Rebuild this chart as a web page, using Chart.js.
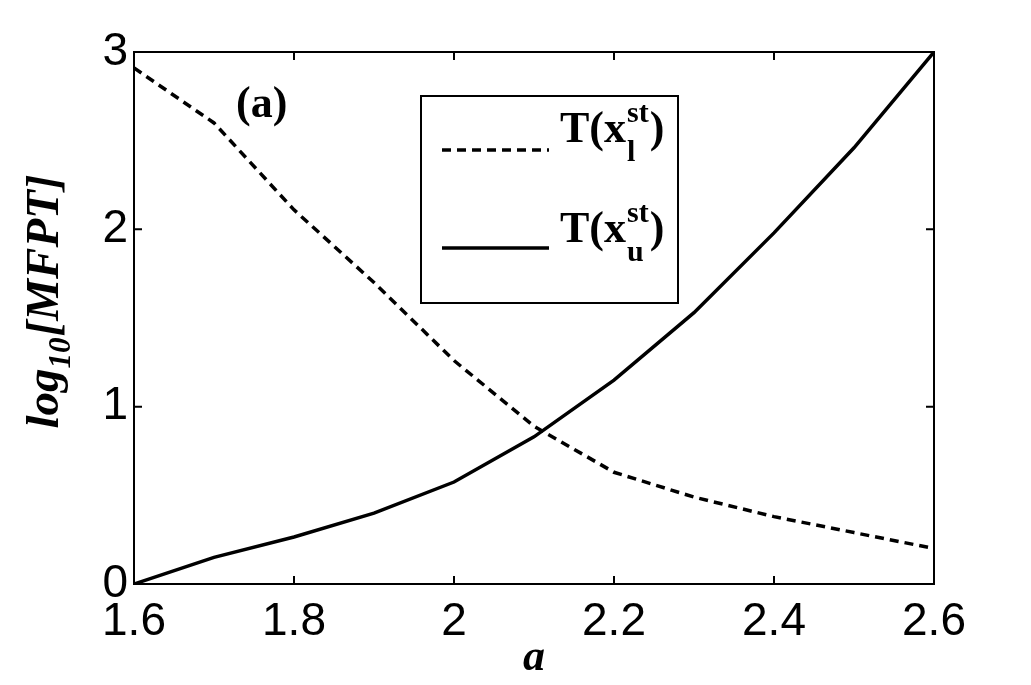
<!DOCTYPE html>
<html>
<head>
<meta charset="utf-8">
<script src="https://cdn.jsdelivr.net/npm/chart.js@4"></script>
<style>
  html, body { margin: 0; padding: 0; background: #fff; }
  #wrap { width: 1031px; height: 685px; }
</style>
</head>
<body>
<div id="wrap"><canvas id="mfptChart" width="1031" height="685"></canvas></div>
<script>
        // values
        const aValues = [1.6, 1.7, 1.8, 1.9, 2.0, 2.1, 2.2, 2.3, 2.4, 2.5, 2.6];
        const lowerT = [2.91, 2.60, 2.11, 1.70, 1.26, 0.89, 0.63, 0.49, 0.38, 0.29, 0.20];
        const upperT = [0.00, 0.15, 0.265, 0.40, 0.575, 0.83, 1.15, 1.53, 1.98, 2.46, 3.00];
        const xTicks = [1.6, 1.8, 2.0, 2.2, 2.4, 2.6];
        const yTicks = [0, 1, 2, 3];

        const serif = '"Liberation Serif", "Times New Roman", serif';
        const sans = '"Liberation Sans", Arial, sans-serif';

        function toPoints(ys) {
            return aValues.map((a, i) => ({ x: a, y: ys[i] }));
        }

        // box, inward ticks, label (a), legend and y title
        const framePlugin = {
            id: 'frame',
            afterDraw(chart) {
                const ctx = chart.ctx;
                const area = chart.chartArea;
                const xs = chart.scales.x;
                const ys = chart.scales.y;
                ctx.save();
                ctx.strokeStyle = '#000';
                ctx.lineWidth = 2;
                ctx.strokeRect(area.left, area.top, area.right - area.left, area.bottom - area.top);

                ctx.beginPath();
                xTicks.forEach(v => {
                    const px = xs.getPixelForValue(v);
                    ctx.moveTo(px, area.bottom); ctx.lineTo(px, area.bottom - 8);
                    ctx.moveTo(px, area.top); ctx.lineTo(px, area.top + 8);
                });
                yTicks.forEach(v => {
                    const py = ys.getPixelForValue(v);
                    ctx.moveTo(area.left, py); ctx.lineTo(area.left + 8, py);
                    ctx.moveTo(area.right, py); ctx.lineTo(area.right - 8, py);
                });
                ctx.stroke();

                ctx.fillStyle = '#000';
                ctx.textBaseline = 'alphabetic';
                ctx.textAlign = 'left';

                // panel label
                ctx.font = 'bold 44px ' + serif;
                ctx.fillText('(a)', 236, 117);

                // legend
                const lx = 421, ly = 96, lw = 257, lh = 207;
                ctx.lineWidth = 2;
                ctx.strokeRect(lx, ly, lw, lh);
                const entries = [
                    { ds: chart.data.datasets[0], sub: 'l', y: 150, base: 142 },
                    { ds: chart.data.datasets[1], sub: 'u', y: 248, base: 242 }
                ];
                entries.forEach(e => {
                    ctx.save();
                    ctx.lineWidth = e.ds.borderWidth;
                    ctx.setLineDash(e.ds.borderDash || []);
                    ctx.beginPath();
                    ctx.moveTo(442, e.y); ctx.lineTo(549, e.y);
                    ctx.stroke();
                    ctx.restore();

                    ctx.font = 'bold 44px ' + serif;
                    ctx.fillText('T(x', 560, e.base);
                    let x = 560 + ctx.measureText('T(x').width;
                    ctx.font = 'bold 30px ' + serif;
                    ctx.fillText('st', x + 1, e.base - 20);
                    ctx.fillText(e.sub, x + 1, e.base + 19);
                    const w = Math.max(ctx.measureText('st').width, ctx.measureText(e.sub).width);
                    ctx.font = 'bold 44px ' + serif;
                    ctx.fillText(')', x + w + 2, e.base);
                });

                // y axis title with subscript
                ctx.save();
                ctx.translate(58, 302);
                ctx.rotate(-Math.PI / 2);
                const big = 'bold italic 47px ' + serif;
                const small = 'bold italic 31px ' + serif;
                ctx.font = big;
                const w1 = ctx.measureText('log').width;
                const w3 = ctx.measureText('[MFPT]').width;
                ctx.font = small;
                const w2 = ctx.measureText('10').width;
                let start = -(w1 + w2 + w3) / 2;
                ctx.font = big;
                ctx.fillText('log', start, 0);
                ctx.font = small;
                ctx.fillText('10', start + w1, 12);
                ctx.font = big;
                ctx.fillText('[MFPT]', start + w1 + w2 + 1, 0);
                ctx.restore();

                ctx.restore();
            }
        };

        const ctx = document.getElementById('mfptChart').getContext('2d');
        new Chart(ctx, {
            type: 'line',
            data: {
                datasets: [{
                    label: 'T(x_l^st)',
                    data: toPoints(lowerT),
                    borderColor: '#000',
                    borderWidth: 3.5,
                    borderDash: [9, 6],
                    pointRadius: 0,
                    tension: 0,
                    fill: false
                }, {
                    label: 'T(x_u^st)',
                    data: toPoints(upperT),
                    borderColor: '#000',
                    borderWidth: 3.5,
                    pointRadius: 0,
                    tension: 0,
                    fill: false
                }]
            },
            options: {
                responsive: false,
                devicePixelRatio: 1,
                animation: false,
                layout: { padding: { top: 52, right: 97, left: 0, bottom: 0 } },
                plugins: {
                    legend: { display: false },
                    tooltip: { enabled: false }
                },
                scales: {
                    x: {
                        type: 'linear',
                        min: 1.6,
                        max: 2.6,
                        afterBuildTicks: s => { s.ticks = xTicks.map(v => ({ value: v })); },
                        afterFit: s => { s.height = 101; },
                        grid: { display: false, drawTicks: false },
                        border: { display: false },
                        ticks: {
                            color: '#000',
                            padding: 11,
                            maxRotation: 0,
                            autoSkip: false,
                            font: { family: sans, size: 46 },
                            callback: v => String(Math.round(v * 10) / 10)
                        },
                        title: {
                            display: true,
                            text: 'a',
                            color: '#000',
                            padding: { top: 0, bottom: 0 },
                            font: { family: serif, size: 44, style: 'italic', weight: 'bold' }
                        }
                    },
                    y: {
                        min: 0,
                        max: 3,
                        afterBuildTicks: s => { s.ticks = yTicks.map(v => ({ value: v })); },
                        afterFit: s => { s.width = 134; },
                        grid: { display: false, drawTicks: false },
                        border: { display: false },
                        ticks: {
                            color: '#000',
                            padding: 6,
                            font: { family: sans, size: 46 }
                        }
                    }
                }
            },
            plugins: [framePlugin]
        });
</script>
</body>
</html>
